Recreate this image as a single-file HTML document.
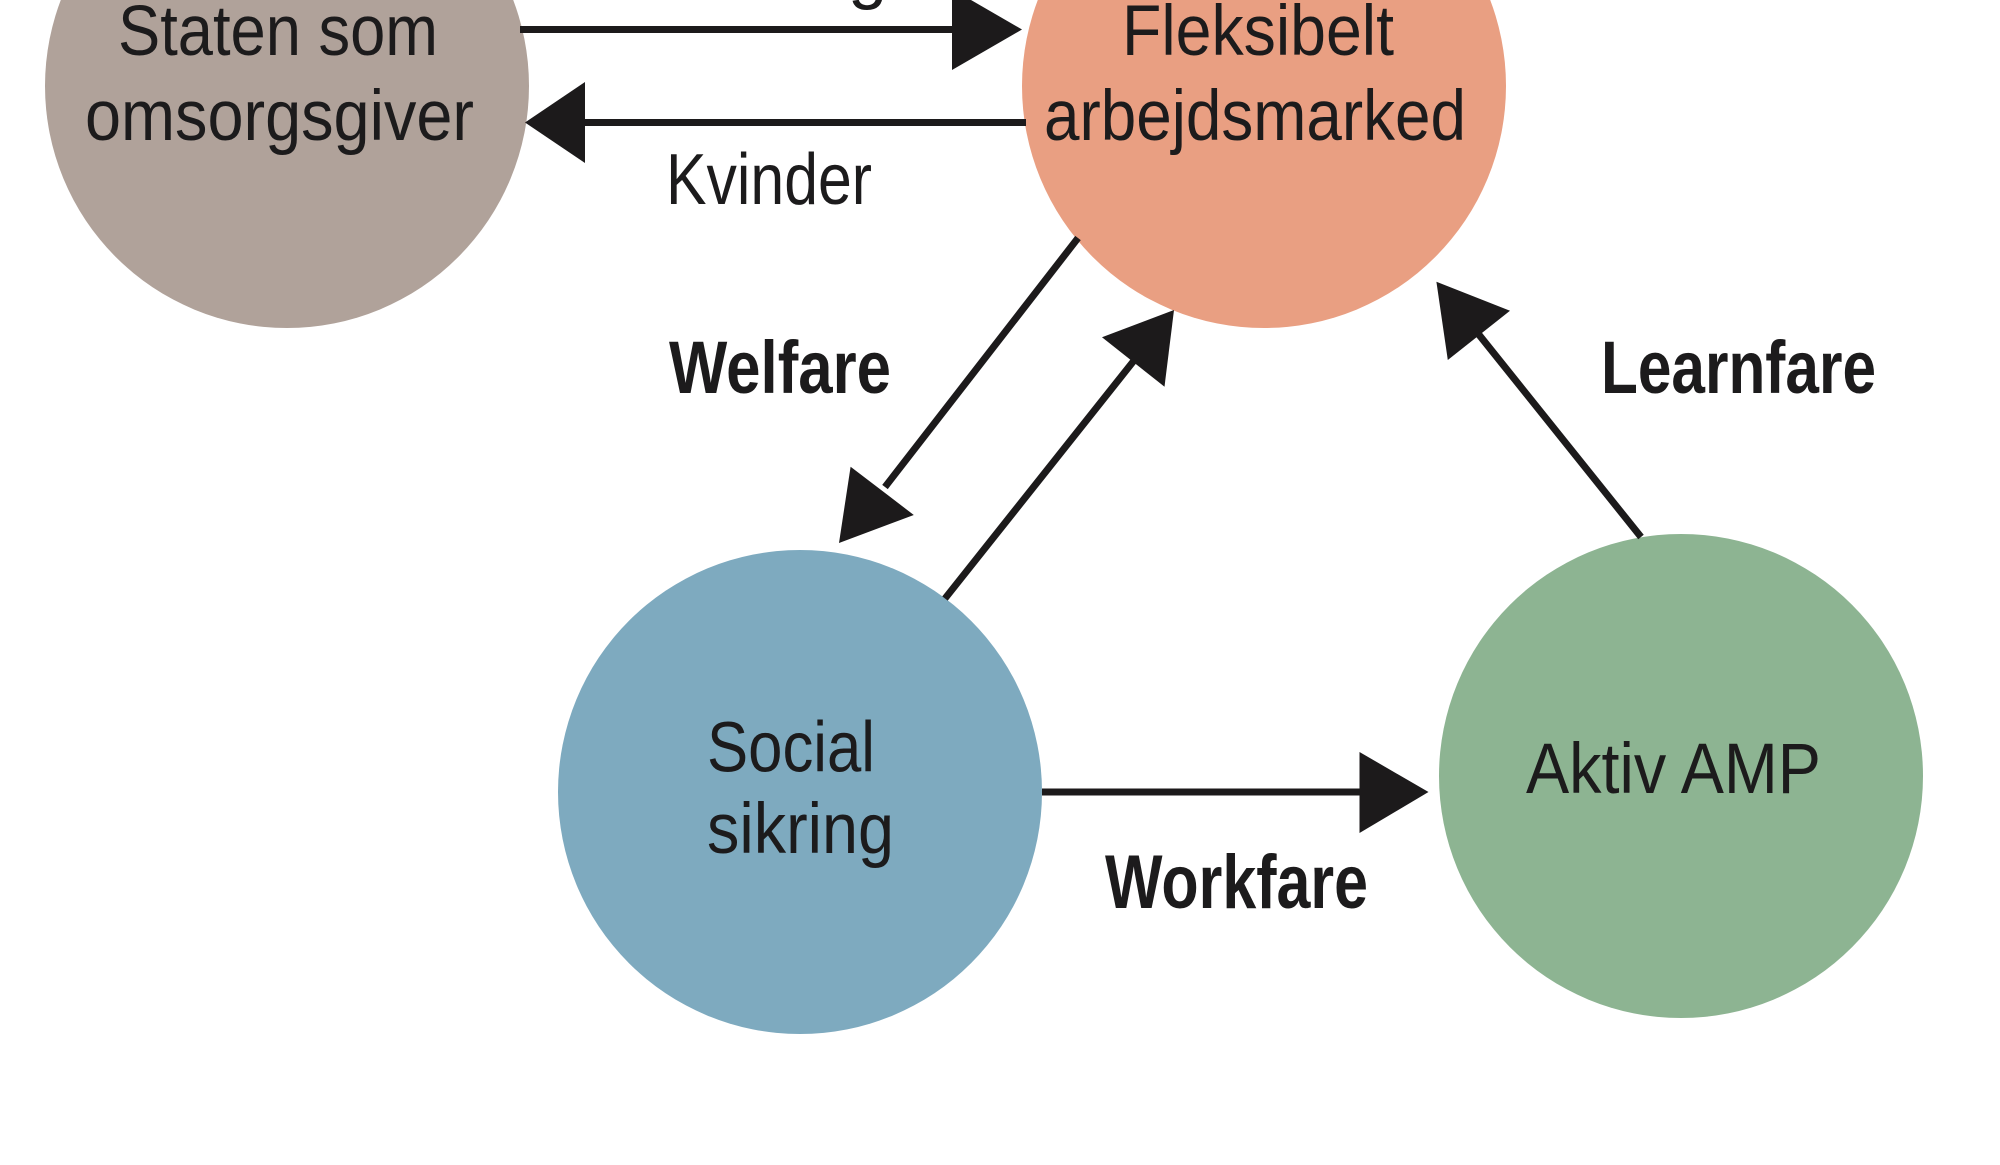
<!DOCTYPE html>
<html>
<head>
<meta charset="utf-8">
<style>
  html, body { margin:0; padding:0; background:#ffffff; }
  body { width:2000px; height:1165px; overflow:hidden; }
  svg { display:block; }
  .t { font-family:"Liberation Sans", "DejaVu Sans", sans-serif; fill:#1c1b1c; }
  .b { font-weight:bold; }
</style>
</head>
<body>
<svg width="2000" height="1165" viewBox="0 0 2000 1165" xmlns="http://www.w3.org/2000/svg">
  <rect x="0" y="0" width="2000" height="1165" fill="#ffffff"/>

  <!-- circles -->
  <circle cx="287" cy="86" r="242" fill="#b0a29a"/>
  <circle cx="1264" cy="86" r="242" fill="#e99f82"/>
  <circle cx="800" cy="792" r="242" fill="#7eaabf"/>
  <circle cx="1681" cy="776" r="242" fill="#8db492"/>

  <!-- connectors -->
  <g stroke="#1c1a1b" stroke-width="7" fill="none" stroke-linecap="butt">
    <line x1="520" y1="29.5" x2="956" y2="29.5"/>
    <line x1="1026" y1="122.5" x2="580" y2="122.5"/>
    <line x1="1078" y1="238" x2="885" y2="487"/>
    <line x1="945" y1="598.5" x2="1136" y2="358"/>
    <line x1="1641" y1="537" x2="1476" y2="331"/>
    <line x1="1042" y1="792" x2="1364" y2="792"/>
  </g>
  <g fill="#1c1a1b">
    <polygon points="952,-11 1022,29.5 952,70"/>
    <polygon points="585,82 525,122.5 585,163"/>
    <polygon points="850.6,466.7 839,543 913.8,515"/>
    <polygon points="1102,337.3 1174,310 1164.5,386.7"/>
    <polygon points="1447.8,360 1436.4,281.7 1510,310.7"/>
    <polygon points="1359.5,752 1428.5,792 1359.5,833"/>
  </g>

  <!-- node labels -->
  <text class="t" x="118" y="55" font-size="71" textLength="320" lengthAdjust="spacingAndGlyphs">Staten som</text>
  <text class="t" x="85" y="140" font-size="71" textLength="389" lengthAdjust="spacingAndGlyphs">omsorgsgiver</text>

  <text class="t" x="1122" y="55" font-size="71" textLength="272" lengthAdjust="spacingAndGlyphs">Fleksibelt</text>
  <text class="t" x="1044" y="140" font-size="71" textLength="422" lengthAdjust="spacingAndGlyphs">arbejdsmarked</text>

  <text class="t" x="707" y="771.5" font-size="71" textLength="168" lengthAdjust="spacingAndGlyphs">Social</text>
  <text class="t" x="707" y="853" font-size="71" textLength="187" lengthAdjust="spacingAndGlyphs">sikring</text>

  <text class="t" x="1526" y="793" font-size="71" textLength="295" lengthAdjust="spacingAndGlyphs">Aktiv AMP</text>

  <!-- connector labels -->
  <text class="t" x="848" y="-5" font-size="71">g</text>
  <text class="t" x="666" y="204" font-size="72" textLength="206" lengthAdjust="spacingAndGlyphs">Kvinder</text>
  <text class="t b" x="669" y="393" font-size="74" textLength="222" lengthAdjust="spacingAndGlyphs">Welfare</text>
  <text class="t b" x="1601" y="393" font-size="74" textLength="275" lengthAdjust="spacingAndGlyphs">Learnfare</text>
  <text class="t b" x="1105" y="908" font-size="76" textLength="263" lengthAdjust="spacingAndGlyphs">Workfare</text>
</svg>
</body>
</html>
